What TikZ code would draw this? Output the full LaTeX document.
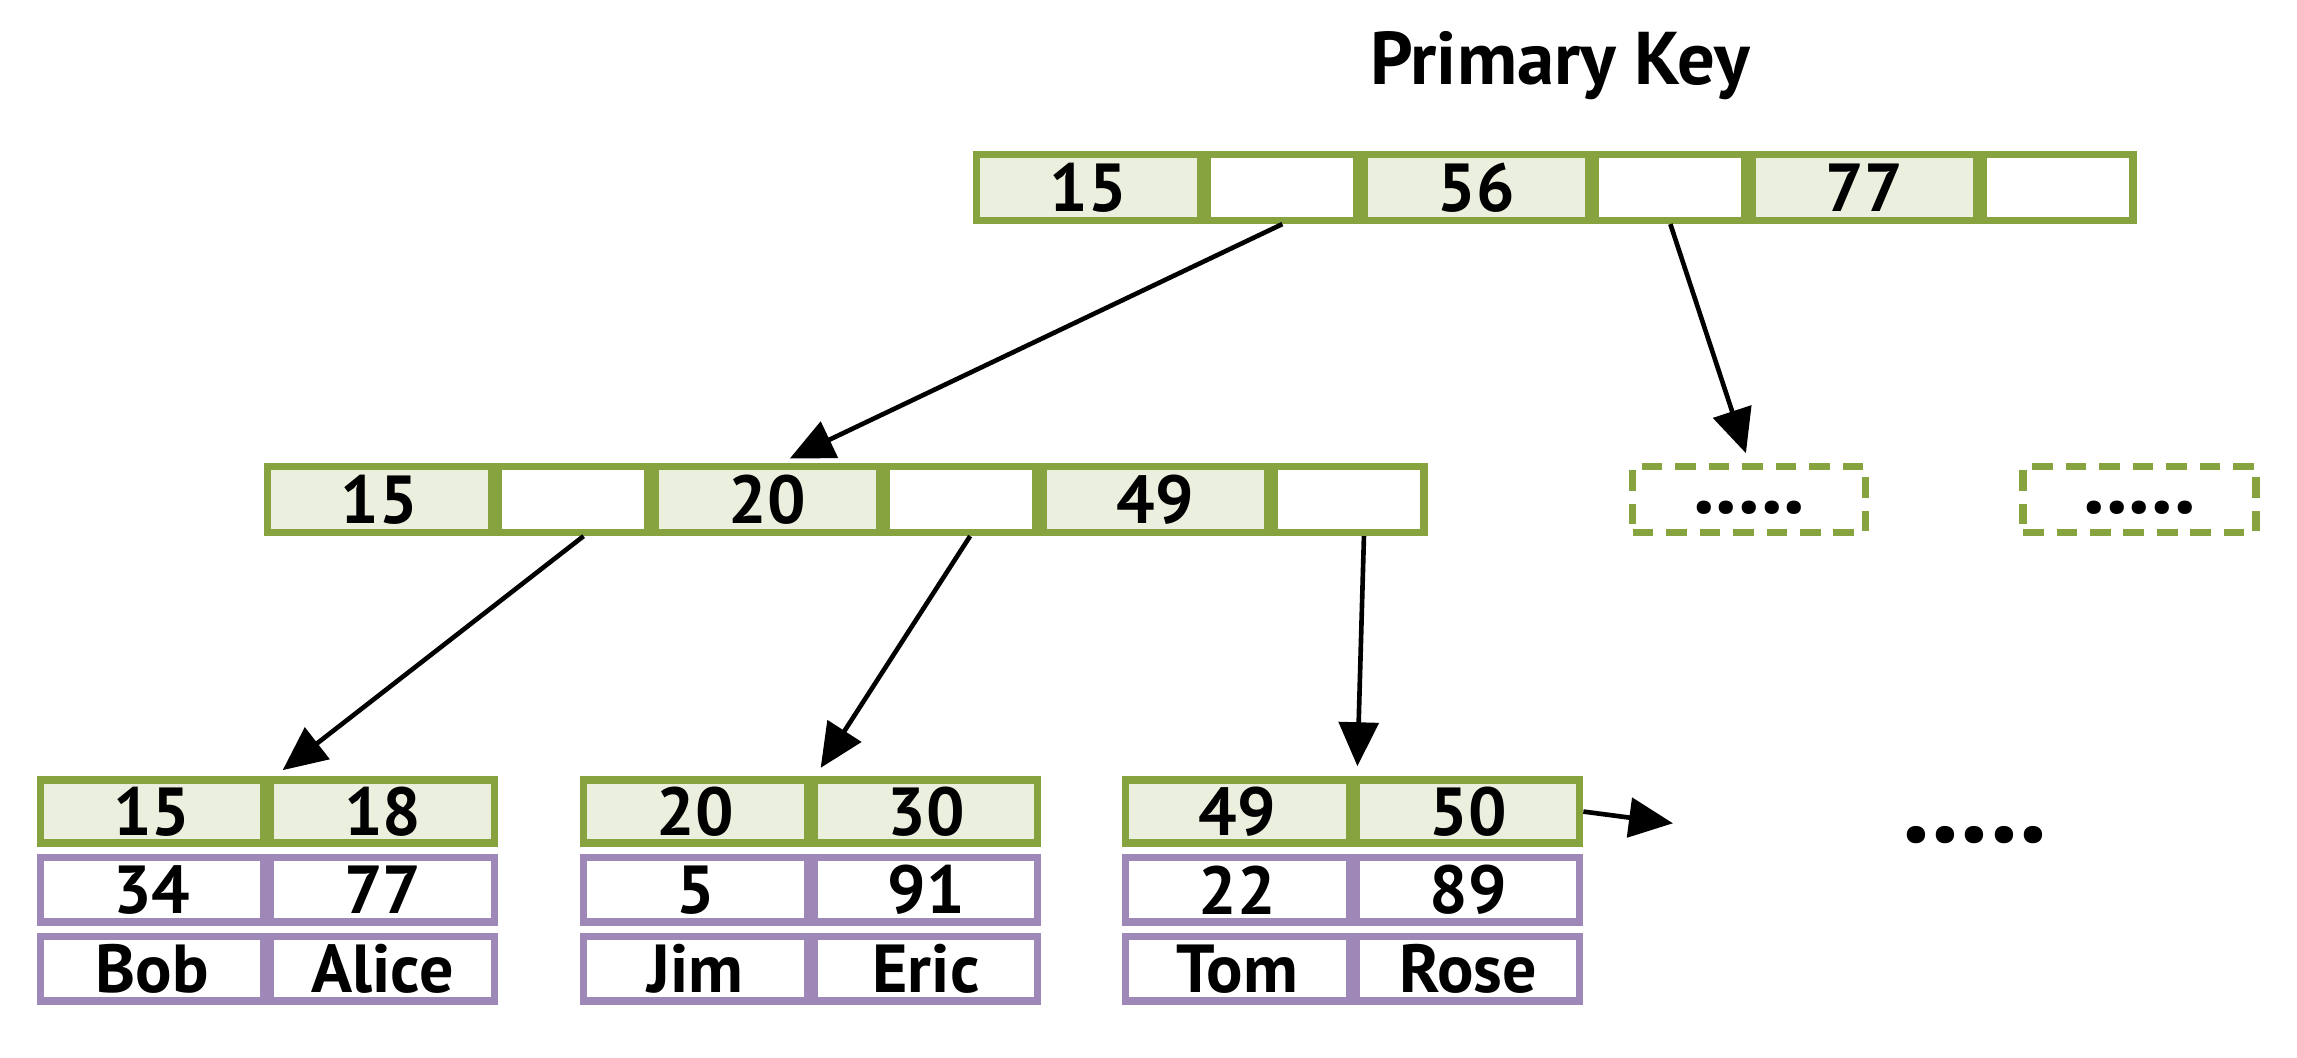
\documentclass[tikz,border=0pt]{standalone}
\usepackage{fontspec}
\setmainfont{PT Sans}
\usetikzlibrary{positioning,arrows.meta}
\definecolor{keygreen}{RGB}{134,163,63}
\definecolor{keyfill}{RGB}{235,240,222}
\definecolor{rowpurple}{RGB}{158,136,183}
\tikzset{
  cell/.style={draw,line width=1.4pt,inner sep=0pt,font=\fontsize{13.2}{15}\selectfont\bfseries},
  keycell/.style={cell,draw=keygreen,fill=keyfill,minimum width=1.53cm,minimum height=0.45cm},
  ptrcell/.style={cell,draw=keygreen,fill=white,minimum width=1.02cm,minimum height=0.45cm},
  leafkey/.style={cell,draw=keygreen,fill=keyfill,minimum width=1.525cm,minimum height=0.43cm},
  leafrow/.style={cell,draw=rowpurple,fill=white,minimum width=1.525cm,minimum height=0.44cm},
  morebox/.style={cell,draw=keygreen,dash pattern=on 4pt off 2.5pt,minimum width=1.59cm,
    minimum height=0.45cm,text height=0.2cm,font=\fontsize{17}{18}\selectfont\bfseries},
  ptr/.style={-{Triangle[length=0.3cm,width=0.27cm]},line width=0.9pt,shorten >=0.07cm}
}
\begin{document}
\begin{tikzpicture}
\useasboundingbox (0,0) rectangle (15.68,-7.22);
\node[font=\fontsize{14.5}{16}\selectfont\bfseries] (title) at (10.65,-0.45) {Primary Key};
% root node
\node[keycell,anchor=west] (t1) at (6.64,-1.28) {15};
\node[ptrcell,right=0pt of t1] (t1p) {};
\node[keycell,right=0pt of t1p] (t2) {56};
\node[ptrcell,right=0pt of t2] (t2p) {};
\node[keycell,right=0pt of t2p] (t3) {77};
\node[ptrcell,right=0pt of t3] (t3p) {};
% inner node
\node[keycell,anchor=west] (m1) at (1.80,-3.41) {15};
\node[ptrcell,right=0pt of m1] (m1p) {};
\node[keycell,right=0pt of m1p] (m2) {20};
\node[ptrcell,right=0pt of m2] (m2p) {};
\node[keycell,right=0pt of m2p] (m3) {49};
\node[ptrcell,right=0pt of m3] (m3p) {};
\node[morebox] (more1) at (11.94,-3.41) {.....};
\node[morebox] (more2) at (14.605,-3.41) {.....};
% leaves
\node[leafkey,anchor=west] (l1a) at (0.25,-5.54) {15};
\node[leafkey,right=0pt of l1a] (l1b) {18};
\node[leafrow,below=0.05cm of l1a] (l1c) {34};
\node[leafrow,below=0.05cm of l1b] (l1d) {77};
\node[leafrow,below=0.05cm of l1c] (l1e) {Bob};
\node[leafrow,below=0.05cm of l1d] (l1f) {Alice};

\node[leafkey,anchor=west] (l2a) at (3.96,-5.54) {20};
\node[leafkey,right=0pt of l2a] (l2b) {30};
\node[leafrow,below=0.05cm of l2a] (l2c) {5};
\node[leafrow,below=0.05cm of l2b] (l2d) {91};
\node[leafrow,below=0.05cm of l2c] (l2e) {Jim};
\node[leafrow,below=0.05cm of l2d] (l2f) {Eric};

\node[leafkey,anchor=west] (l3a) at (7.66,-5.54) {49};
\node[leafkey,right=0pt of l3a] (l3b) {50};
\node[leafrow,below=0.05cm of l3a] (l3c) {22};
\node[leafrow,below=0.05cm of l3b] (l3d) {89};
\node[leafrow,below=0.05cm of l3c] (l3e) {Tom};
\node[leafrow,below=0.05cm of l3d] (l3f) {Rose};

\coordinate (nextleaf) at (11.42,-5.62);
\node[font=\fontsize{22}{24}\selectfont\bfseries] (dots) at (13.48,-5.70) {.....};
% pointers
\draw[ptr] (t1p.south) -- ([xshift=0.09cm]m2.north);
\draw[ptr] (t2p.south) -- (more1.north);
\draw[ptr] ([xshift=0.07cm]m1p.south) -- ([xshift=0.05cm]l1a.north east);
\draw[ptr] ([xshift=0.06cm]m2p.south) -- ([xshift=0.03cm]l2a.north east);
\draw[ptr] ([xshift=0.1cm]m3p.south) -- ([xshift=0.03cm]l3a.north east);
\draw[ptr,shorten >=0pt] (l3b.east) -- (nextleaf);
\end{tikzpicture}
\end{document}
